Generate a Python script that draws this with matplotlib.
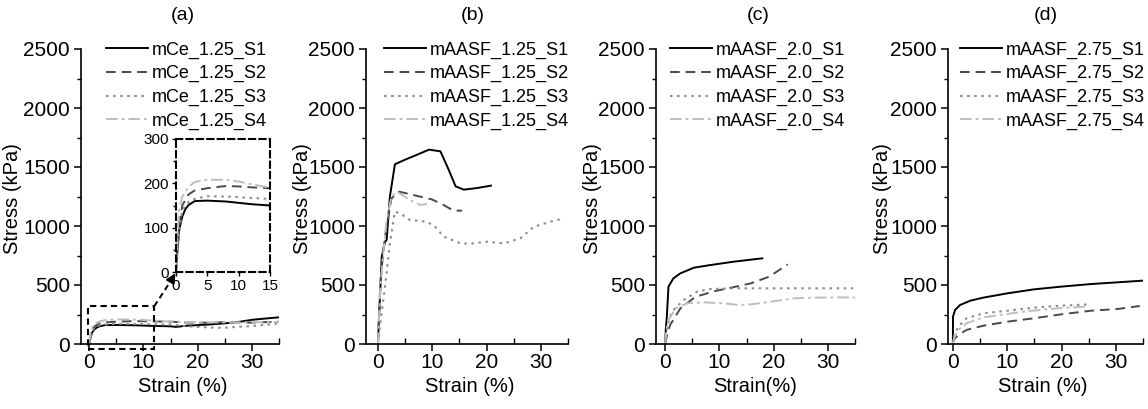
import matplotlib
matplotlib.use("Agg")
import matplotlib.pyplot as plt
from matplotlib.patches import Rectangle
from matplotlib.ticker import MultipleLocator

plt.rcParams['font.family'] = ['Liberation Sans', 'DejaVu Sans']

# ---------------- data (strain %, stress kPa) ----------------
titles = ["(a)", "(b)", "(c)", "(d)"]
xlabels = ["Strain (%)", "Strain (%)", "Strain(%)", "Strain (%)"]
ylabel = "Stress (kPa)"

a_labels = ["mCe_1.25_S1", "mCe_1.25_S2", "mCe_1.25_S3", "mCe_1.25_S4"]
a_s1_x = [0, 0.2, 0.5, 1, 1.5, 2, 3, 5, 8, 10, 12, 15, 16, 18, 20, 22, 25, 28, 30, 33, 35]
a_s1_y = [0, 50, 94, 125, 142, 151, 160, 161, 159, 156, 153, 150, 145, 155, 160, 165, 175, 190, 205, 218, 226]
a_s2_x = [0, 0.3, 0.6, 1, 2, 3, 5, 8, 10, 12, 15, 18, 20, 25, 30, 35]
a_s2_y = [0, 60, 110, 150, 175, 184, 189, 194, 193, 191, 189, 182, 180, 184, 181, 189]
a_s3_x = [0, 0.3, 0.6, 1, 2, 3, 5, 8, 10, 12, 15, 18, 20, 23, 25, 28, 30, 33, 35]
a_s3_y = [0, 55, 100, 140, 158, 165, 171, 170, 169, 167, 165, 150, 145, 138, 138, 147, 152, 165, 175]
a_s4_x = [0, 0.2, 0.5, 1, 2, 3, 5, 8, 10, 12, 15, 18, 20, 25, 30, 35]
a_s4_y = [0, 80, 140, 170, 192, 203, 208, 208, 204, 198, 190, 186, 184, 183, 184, 186]

b_labels = ["mAASF_1.25_S1", "mAASF_1.25_S2", "mAASF_1.25_S3", "mAASF_1.25_S4"]
b_s1_x = [0, 0.25, 0.7, 1.3, 1.6, 2.2, 3.1, 3.2, 5, 7, 9.4, 11.5, 13, 14.3, 15.8, 18.3, 20.8]
b_s1_y = [0, 274, 740, 867, 881, 1249, 1517, 1525, 1562, 1600, 1647, 1633, 1480, 1336, 1308, 1322, 1342]
b_s2_x = [0, 0.4, 1, 1.6, 2.5, 3.9, 6.5, 9.9, 12.1, 13.9, 15.5]
b_s2_y = [0, 480, 800, 1000, 1234, 1291, 1263, 1226, 1178, 1130, 1130]
b_s3_x = [0, 0.5, 1.3, 2.2, 3.1, 4.1, 5.9, 9, 10.5, 12.1, 15.2, 17, 20.1, 23.2, 26.2, 28.7, 31.8, 34.3]
b_s3_y = [0, 200, 486, 853, 1121, 1107, 1051, 1037, 994, 910, 853, 850, 867, 853, 895, 994, 1037, 1065]
b_s4_x = [0, 0.4, 1, 1.6, 2.5, 3.5, 5.9, 7.8, 9]
b_s4_y = [0, 450, 780, 1050, 1250, 1291, 1220, 1178, 1186]

c_labels = ["mAASF_2.0_S1", "mAASF_2.0_S2", "mAASF_2.0_S3", "mAASF_2.0_S4"]
c_s1_x = [0, 0.1, 0.3, 0.6, 1.5, 2.8, 5.3, 8.3, 12.7, 17.9]
c_s1_y = [0, 120, 232, 486, 556, 599, 647, 669, 698, 726]
c_s2_x = [0, 0.4, 0.9, 2.8, 5.6, 7.1, 8.7, 12.1, 15.8, 19.2, 22.6]
c_s2_y = [0, 90, 161, 302, 401, 420, 444, 477, 514, 571, 675]
c_s3_x = [0, 0.4, 1.2, 3.4, 5.9, 8.3, 12.7, 35]
c_s3_y = [0, 150, 274, 373, 444, 466, 472, 472]
c_s4_x = [0, 0.2, 0.6, 1.9, 4, 7.1, 10.8, 13.6, 15.8, 19.5, 23.8, 28.1, 32.5, 35]
c_s4_y = [0, 120, 203, 302, 345, 353, 345, 330, 336, 359, 387, 393, 395, 393]

d_labels = ["mAASF_2.75_S1", "mAASF_2.75_S2", "mAASF_2.75_S3", "mAASF_2.75_S4"]
d_s1_x = [0, 0.02, 0.4, 1.3, 3.2, 5.6, 10, 14.9, 19.9, 25.4, 30.4, 35]
d_s1_y = [0, 232, 288, 330, 367, 393, 429, 463, 486, 508, 523, 537]
d_s2_x = [0, 0.2, 1, 2.5, 5.6, 10, 14.9, 19.9, 25.4, 30.4, 34.4]
d_s2_y = [0, 40, 76, 119, 155, 189, 218, 251, 282, 297, 322]
d_s3_x = [0, 0.2, 1, 2.5, 5.6, 10, 14.9, 19.9, 25.4]
d_s3_y = [0, 70, 147, 218, 260, 282, 308, 325, 336]
d_s4_x = [0, 0.2, 1, 2.5, 5.6, 8.7, 13, 16, 20, 25]
d_s4_y = [0, 50, 119, 175, 226, 246, 274, 288, 305, 318]

panels = [
    (a_labels, [(a_s1_x, a_s1_y), (a_s2_x, a_s2_y), (a_s3_x, a_s3_y), (a_s4_x, a_s4_y)]),
    (b_labels, [(b_s1_x, b_s1_y), (b_s2_x, b_s2_y), (b_s3_x, b_s3_y), (b_s4_x, b_s4_y)]),
    (c_labels, [(c_s1_x, c_s1_y), (c_s2_x, c_s2_y), (c_s3_x, c_s3_y), (c_s4_x, c_s4_y)]),
    (d_labels, [(d_s1_x, d_s1_y), (d_s2_x, d_s2_y), (d_s3_x, d_s3_y), (d_s4_x, d_s4_y)]),
]

# ---------------- styles ----------------
styles = [
    dict(color="#000000", linestyle="-", lw=1.4),
    dict(color="#4a4a4a", linestyle=(0, (5, 3)), lw=1.4),
    dict(color="#8c8c8c", linestyle=(0, (1.2, 2.2)), lw=1.5),
    dict(color="#bdbdbd", linestyle=(0, (6, 2, 1.5, 2)), lw=1.4),
]

W, H = 1148, 409
fig = plt.figure(figsize=(W / 100, H / 100), dpi=100)

# axes pixel boxes: left, right, xmin
ax_px = [(81, 279, -1.5), (366, 568, -2.2), (656, 855, -1.7), (948, 1143, -0.9)]
top_px, bot_px = 49, 344
title_x = [183, 473, 758, 1046]
xlabel_x = [183, 470, 755, 1043]
ylabel_x = [13, 302, 592, 883]
legend_px = [106, 384, 670, 960]

def style_axes(ax, tick_fs):
    for s in ["top", "right"]:
        ax.spines[s].set_visible(False)
    for s in ["left", "bottom"]:
        ax.spines[s].set_linewidth(1.2)
    ax.tick_params(axis="both", which="major", labelsize=tick_fs, width=1.1, length=5, pad=3)
    ax.tick_params(axis="y", which="minor", width=1.0, length=3, direction="out")
    ax.tick_params(axis="x", which="minor", width=1.0, length=4, direction="in")

for i, (labels, series) in enumerate(panels):
    l, r, xmin = ax_px[i]
    ax = fig.add_axes([l / W, 1 - bot_px / H, (r - l) / W, (bot_px - top_px) / H])
    for (xs, ys), st, lab in zip(series, styles, labels):
        ax.plot(xs, ys, label=lab, **st)
    ax.set_xlim(xmin, 35)
    ax.set_ylim(0, 2500)
    ax.xaxis.set_major_locator(MultipleLocator(10))
    ax.xaxis.set_minor_locator(MultipleLocator(5))
    ax.yaxis.set_major_locator(MultipleLocator(500))
    ax.yaxis.set_minor_locator(MultipleLocator(250))
    style_axes(ax, 15)
    ax.tick_params(axis="x", which="major", pad=1.5)
    ax.patch.set_alpha(0)
    ax.legend(loc="upper left",
              bbox_to_anchor=((legend_px[i] - l) / (r - l), 1.025),
              frameon=False, fontsize=13, handlelength=2.3,
              handletextpad=0.25, labelspacing=0.36,
              borderpad=0, borderaxespad=0)
    fig.text(title_x[i] / W, 1 - 15 / H, titles[i], ha="center", va="center", fontsize=14)
    fig.text(xlabel_x[i] / W, 1 - 387 / H, xlabels[i], ha="center", va="center", fontsize=14.5)
    fig.text(ylabel_x[i] / W, 1 - 199 / H, ylabel, ha="center", va="center",
             rotation=90, fontsize=14.5)

    if i == 0:
        # zoom box on main axes
        ax.add_patch(Rectangle((-0.3, -40), 12.3, 360, fill=False, ls=(0, (3, 2)),
                               lw=1.5, ec="k", clip_on=False, zorder=5))
        ax.plot([12, 15.2], [320, 545], ls=(0, (3, 2)), color="k", lw=1.4, clip_on=False)
        ax.annotate("", xy=(15.9, 600), xytext=(15.0, 530),
                    arrowprops=dict(arrowstyle="-|>", color="k", lw=1.4,
                                    mutation_scale=14, shrinkA=0, shrinkB=0),
                    annotation_clip=False)
        # inset
        ins = fig.add_axes([176 / W, 1 - 272 / H, 94 / W, 133 / H])
        for (xs, ys), st in zip(series, styles):
            ins.plot(xs, ys, **st)
        ins.set_xlim(0, 15)
        ins.set_ylim(0, 300)
        ins.xaxis.set_major_locator(MultipleLocator(5))
        ins.yaxis.set_major_locator(MultipleLocator(100))
        ins.yaxis.set_minor_locator(MultipleLocator(50))
        for s in ins.spines.values():
            s.set_linestyle((0, (3, 2)))
            s.set_linewidth(1.5)
        ins.tick_params(axis="both", which="major", labelsize=11, width=1.0, length=3, pad=2)
        ins.tick_params(axis="y", which="minor", width=1.0, length=2)
        ins.patch.set_alpha(0)

fig.savefig("out.png", dpi=100)
